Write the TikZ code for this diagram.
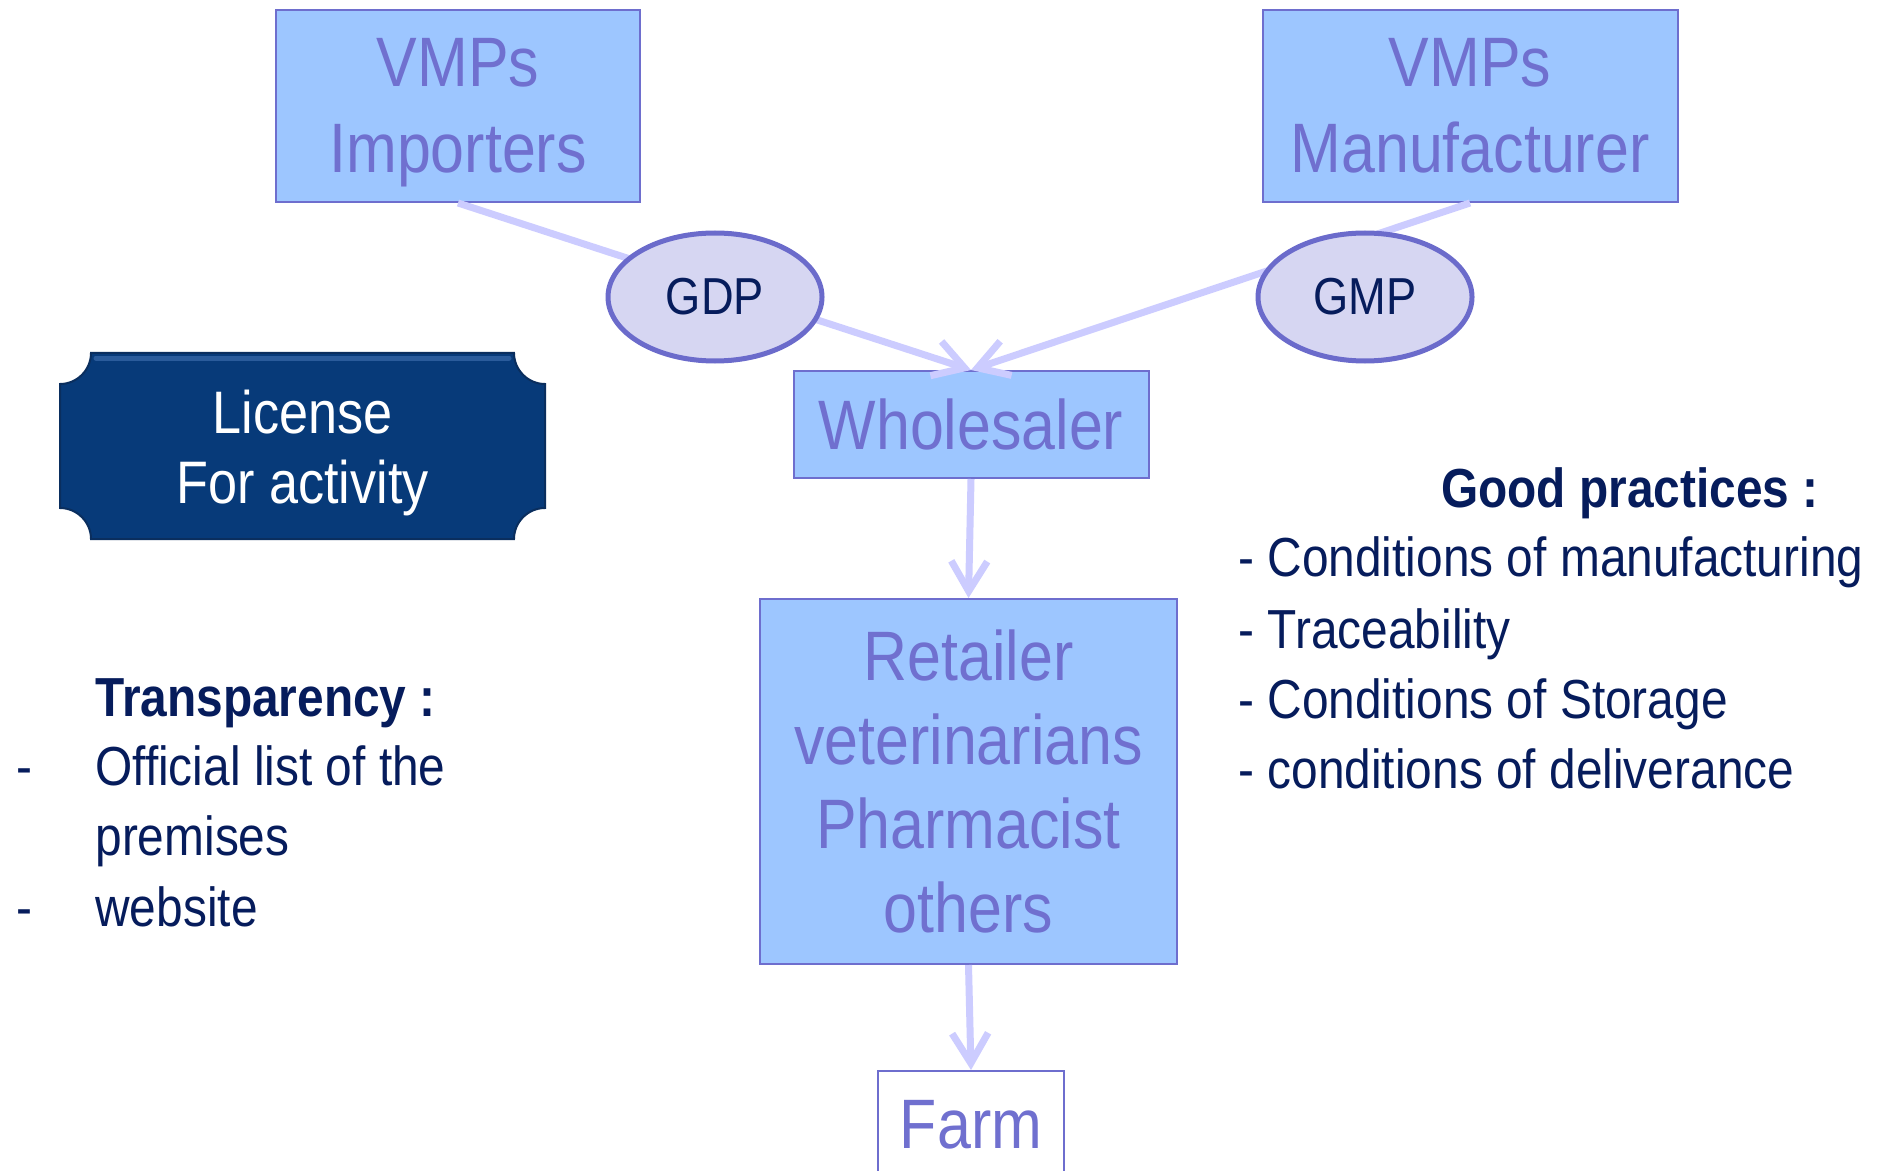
\documentclass[tikz,border=0pt]{standalone}
\usepackage{fontspec}
\setmainfont{Liberation Sans}[FakeStretch=0.87]
\usetikzlibrary{arrows.meta,shapes.geometric}
\definecolor{boxfill}{HTML}{9DC6FF}
\definecolor{boxline}{HTML}{6E6ECE}
\definecolor{boxtext}{HTML}{7070CF}
\definecolor{ellfill}{HTML}{D6D6F2}
\definecolor{ellline}{HTML}{6B6BCB}
\definecolor{conn}{HTML}{CCCCFF}
\definecolor{navy}{HTML}{061C5C}
\definecolor{licfill}{HTML}{073A79}
\definecolor{licline}{HTML}{0A2E5E}
\definecolor{lichl}{HTML}{3A6AAA}
\begin{document}
\begin{tikzpicture}[x=0.5pt,y=-0.5pt,
  flowbox/.style={draw=boxline, fill=boxfill, line width=1pt, inner sep=0pt,
    align=center, text=boxtext, font=\fontsize{35}{43}\selectfont},
  practice/.style={draw=ellline, fill=ellfill, line width=2.5pt, ellipse, inner sep=0pt,
    minimum width=107pt, minimum height=64pt, text=navy, font=\fontsize{26}{30}\selectfont},
  flow/.style={draw=conn, line width=3.5pt, -{Straight Barb[length=15pt,width=18pt]}},
  listtext/.style={anchor=base west, inner sep=0pt, text=navy, font=\fontsize{27.5}{35}\selectfont},
  listhead/.style={anchor=base, inner sep=0pt, text=navy, font=\fontsize{27.5}{35}\selectfont\bfseries}
]
\useasboundingbox (0,0) rectangle (1877,1171);
\fill[white] (0,0) rectangle (1877,1171);

% boxes
\node[flowbox, minimum width=182pt, minimum height=96pt] (imp) at (458,106) {VMPs\\Im\smash{p}orters};
\node[flowbox, minimum width=207.5pt, minimum height=96pt] (man) at (1470,106) {VMPs\\Manufacturer};
\node[flowbox, minimum width=177.5pt, minimum height=53.5pt] (whole) at (971,424.5) {Wholesaler};
\node[flowbox, font=\fontsize{35}{42}\selectfont, minimum width=208.5pt, minimum height=182.5pt] (ret) at (968.5,781.5) {Retailer\\veterinarians\\Pharmacist\\others};
\node[flowbox, fill=white, minimum width=93pt, minimum height=54pt] (farm) at (971,1125) {Farm};

% connectors
\draw[flow] (imp.south) -- (whole.north);
\draw[flow] (man.south) -- (whole.north);
\draw[flow] (whole.south) -- (ret.north);
\draw[flow] (ret.south) -- (farm.north);

% good practice ellipses
\node[practice] (gdp) at (715,297) {GDP};
\node[practice] (gmp) at (1365,297) {GMP};

% license plaque
\filldraw[fill=licfill, draw=licline, line width=1pt]
  (91,353) -- (514,353) .. controls (514,370) and (528,384) .. (545,384)
  -- (545,508) .. controls (528,508) and (514,522) .. (514,539)
  -- (91,539) .. controls (91,522) and (77,508) .. (60,508)
  -- (60,384) .. controls (77,384) and (91,370) .. (91,353) -- cycle;
\draw[lichl, line width=2.5pt, opacity=0.7, line cap=round] (96,358) -- (509,358);
\node[align=center, text=white, inner sep=0pt, font=\fontsize{30}{35}\selectfont] (lic) at (302.5,453) {License\\For activity};

% transparency
\node[listhead, anchor=base west] (trh) at (95,716) {Transparency :};
\node[listtext] (trd1) at (16,785) {-};
\node[listtext] (tr1) at (95,785) {Official list of the};
\node[listtext] (tr1b) at (95,855) {premises};
\node[listtext] (trd2) at (16,926) {-};
\node[listtext] (tr2) at (95,926) {website};

% good practices
\node[listhead] (gph) at (1630,507) {Good practices :};
\node[listtext] (gp1) at (1238,576) {- Conditions of manufacturing};
\node[listtext] (gp2) at (1238,648) {- Traceability};
\node[listtext] (gp3) at (1238,718) {- Conditions of Storage};
\node[listtext] (gp4) at (1238,788) {- conditions of deliverance};
\end{tikzpicture}
\end{document}
